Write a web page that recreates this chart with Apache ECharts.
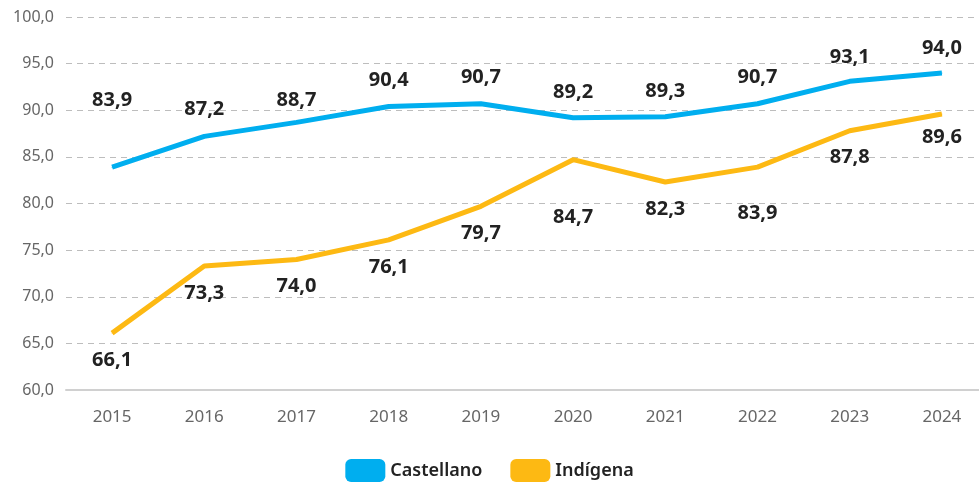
<!DOCTYPE html>
<html>
<head>
<meta charset="utf-8">
<script src="https://cdn.jsdelivr.net/npm/echarts@6/dist/echarts.min.js"></script>
<style>
  html, body { margin: 0; padding: 0; background: #fff; }
  #container { width: 979px; height: 486px; }
</style>
</head>
<body>
<div id="container"></div>
<script>
// datos
var years = ['2015', '2016', '2017', '2018', '2019', '2020', '2021', '2022', '2023', '2024'];
var castellano = [83.9, 87.2, 88.7, 90.4, 90.7, 89.2, 89.3, 90.7, 93.1, 94.0];
var indigena = [66.1, 73.3, 74.0, 76.1, 79.7, 84.7, 82.3, 83.9, 87.8, 89.6];

// desplazamiento vertical de etiquetas (px)
var castellanoLabelDy = [-67, -27, -22, -26, -26, -25, -25, -26, -24, -25];
var indigenaLabelDy = [27, 27, 27, 27, 27, 58, 27, 46, 27, 23];

function fmt(v) {
    return Number(v).toFixed(1).replace('.', ',');
}

function buildData(values, dys) {
    var res = [];
    for (var i = 0; i < values.length; i++) {
        res.push({ value: values[i], label: { offset: [0, dys[i]] } });
    }
    return res;
}

var myChart = echarts.init(document.getElementById('container'));

var seriesLabel = {
    show: true,
    position: 'inside',
    fontFamily: 'Noto Sans',
    fontSize: 20,
    fontWeight: 'bold',
    color: '#222',
    formatter: function (p) { return fmt(p.value); }
};

var option = {
    animation: false,
    textStyle: { fontFamily: 'Noto Sans' },
    grid: { left: 66, right: -9, top: 17, bottom: 96, outerBoundsMode: 'none', containLabel: false },
    legend: {
        top: 454,
        left: 'center',
        icon: 'roundRect',
        itemWidth: 40,
        itemHeight: 23,
        itemGap: 28,
        textStyle: { fontSize: 18, fontWeight: 600, color: '#222', fontFamily: 'Noto Sans' },
        data: ['Castellano', 'Indígena']
    },
    xAxis: {
        type: 'category',
        data: years,
        boundaryGap: true,
        axisLine: { lineStyle: { color: '#d0d0d0', width: 2 } },
        axisTick: { show: false },
        axisLabel: { color: '#666', fontSize: 17, margin: 19 }
    },
    yAxis: {
        type: 'value',
        min: 60,
        max: 100,
        interval: 5,
        axisLine: { show: false },
        axisTick: { show: false },
        axisLabel: { color: '#666', fontSize: 16, margin: 12, formatter: fmt },
        splitLine: { lineStyle: { color: '#bdbdbd', type: [6, 5], width: 1 } }
    },
    series: [
        {
            name: 'Castellano',
            type: 'line',
            data: buildData(castellano, castellanoLabelDy),
            symbol: 'circle',
            symbolSize: 1,
            lineStyle: { width: 5, color: '#00aeef' },
            itemStyle: { color: '#00aeef' },
            label: seriesLabel
        },
        {
            name: 'Indígena',
            type: 'line',
            data: buildData(indigena, indigenaLabelDy),
            symbol: 'circle',
            symbolSize: 1,
            lineStyle: { width: 5, color: '#fdb913' },
            itemStyle: { color: '#fdb913' },
            label: seriesLabel
        }
    ]
};

myChart.setOption(option, true);
</script>
</body>
</html>
